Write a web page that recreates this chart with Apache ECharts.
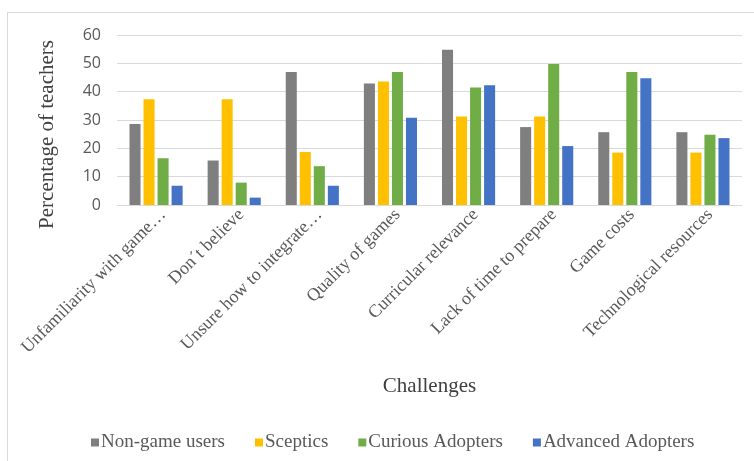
<!DOCTYPE html>
<html>
<head>
<meta charset="utf-8">
<script src="https://cdn.jsdelivr.net/npm/echarts@6/dist/echarts.min.js"></script>
<style>
  html, body { margin: 0; padding: 0; background: #fff; }
  #frame { position: absolute; left: 7px; top: 12px; width: 760px; height: 470px; border: 1px solid #d9d9d9; box-sizing: border-box; }
  #chart { width: 754px; height: 461px; position: absolute; left: 0; top: 0; }
</style>
</head>
<body>
<div id="frame"></div>
<div id="chart"></div>
<script>
// 数据
const categories = [
  'Unfamiliarity with game…',
  'Don´t believe',
  'Unsure how to integrate…',
  'Quality of games',
  'Curricular relevance',
  'Lack of time to prepare',
  'Game costs',
  'Technological resources'
];
const nonGameUsers = [28.6, 15.7, 46.9, 42.9, 54.8, 27.5, 25.7, 25.7];
const sceptics = [37.3, 37.3, 18.7, 43.6, 31.2, 31.2, 18.5, 18.5];
const curiousAdopters = [16.5, 7.9, 13.7, 46.9, 41.5, 49.8, 46.9, 24.8];
const advancedAdopters = [6.8, 2.6, 6.8, 30.8, 42.3, 20.8, 44.7, 23.6];
const yTicks = [0, 10, 20, 30, 40, 50, 60];

const chart = echarts.init(document.getElementById('chart'));

function barSeries(name, data, color) {
  return {
    name: name,
    type: 'bar',
    data: data,
    itemStyle: { color: color },
    barGap: '27%',
    barCategoryGap: '32%'
  };
}

chart.setOption({
  animation: false,
  backgroundColor: 'transparent',
  grid: { left: 117, right: 12, top: 35, bottom: 256 },
  legend: {
    top: 428,
    left: 86,
    itemWidth: 8,
    itemHeight: 8,
    itemGap: 30,
    icon: 'rect',
    textStyle: { fontFamily: 'Liberation Serif', fontSize: 19, color: '#595959', padding: [0, 0, 0, -3] }
  },
  graphic: [{
    type: 'text',
    left: 37,
    top: 40,
    rotation: Math.PI / 2,
    style: {
      text: 'Percentage of teachers',
      font: '21px "Liberation Serif"',
      fill: '#404040'
    }
  }],
  xAxis: {
    type: 'category',
    data: categories,
    name: 'Challenges',
    nameLocation: 'middle',
    nameGap: 171,
    nameTextStyle: { fontFamily: 'Liberation Serif', fontSize: 21, color: '#404040' },
    axisLine: { lineStyle: { color: '#d9d9d9' } },
    axisTick: { show: false },
    axisLabel: {
      interval: 0,
      rotate: 45,
      margin: 14,
      padding: [0, -10, 0, 0],
      fontFamily: 'Liberation Serif',
      fontSize: 18,
      color: '#595959'
    }
  },
  yAxis: {
    type: 'value',
    min: yTicks[0],
    max: yTicks[yTicks.length - 1],
    interval: 10,
    axisLine: { show: false },
    axisTick: { show: false },
    axisLabel: { fontFamily: 'Open Sans', fontSize: 16, color: '#595959', margin: 16 },
    splitLine: { lineStyle: { color: '#d9d9d9', width: 1 } }
  },
  series: [
    barSeries('Non-game users', nonGameUsers, '#7f7f7f'),
    barSeries('Sceptics', sceptics, '#ffc000'),
    barSeries('Curious Adopters', curiousAdopters, '#70ad47'),
    barSeries('Advanced Adopters', advancedAdopters, '#4472c4')
  ]
});
</script>
</body>
</html>
